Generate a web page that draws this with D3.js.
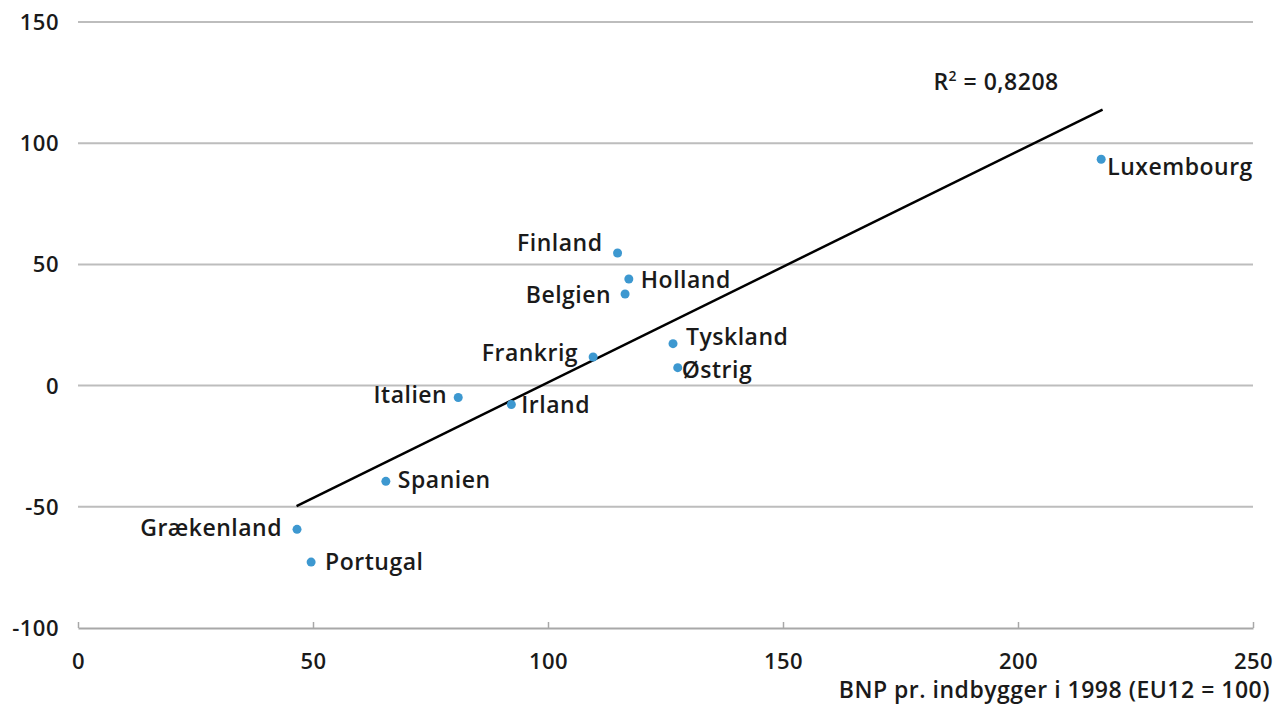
<!DOCTYPE html>
<html>
<head>
<meta charset="utf-8">
<script src="https://cdn.jsdelivr.net/npm/d3@7"></script>
<style>
  body { margin: 0; background: #fff; }
  text { font-family: "Open Sans", "Noto Sans", sans-serif; font-weight: 600; fill: #1a1a1a; letter-spacing: 0.5px; }
</style>
</head>
<body>
<div id="chart"></div>
<script>
var countries = ["Luxembourg", "Finland", "Holland", "Belgien", "Tyskland", "Østrig",
                 "Frankrig", "Italien", "Irland", "Spanien", "Grækenland", "Portugal"];
var gdp =    [217.7, 114.8, 117.2, 116.4, 126.6, 127.6, 109.6, 80.9, 92.2, 65.5, 46.6, 49.6];
var growth = [ 93.4,  54.7,  44.0,  37.8,  17.3,   7.4,  11.8, -4.9, -7.8, -39.5, -59.3, -72.8];
// label placement next to each dot: side ("start" = right, "end" = left) and nudge
var labelSide = ["start", "end", "start", "end", "start", "start",
                 "end", "end", "start", "start", "end", "start"];
var labelDx = [6, -15, 12, -14, 13, 4, -15, -11, 10, 12, -15, 14];
var labelDy = [16, -2, 9, 9, 1, 10, 4, 6, 8, 7, 7, 8];

var trendX = [46.5, 218.0];
var trendY = [-49.7, 113.9];
var r2Text = "0,8208";

var xTicks = [0, 50, 100, 150, 200, 250];
var yTicks = [150, 100, 50, 0, -50, -100];
var xTitle = "BNP pr. indbygger i 1998 (EU12 = 100)";

var margin = {top: 22, right: 33, bottom: 83, left: 78},
    width = 1286 - margin.left - margin.right,
    height = 711 - margin.top - margin.bottom;

var x = d3.scaleLinear().domain([0, 250]).range([0, width]);
var y = d3.scaleLinear().domain([-100, 150]).range([height, 0]);

var svg = d3.select("#chart")
  .append("svg")
    .attr("width", width + margin.left + margin.right)
    .attr("height", height + margin.top + margin.bottom)
  .append("g")
    .attr("transform", "translate(" + margin.left + "," + margin.top + ")");

// horizontal grid lines
svg.append("g")
  .selectAll("line")
  .data(yTicks.filter(function(d) { return d !== -100; }))
  .enter()
  .append("line")
    .attr("x1", 0)
    .attr("x2", width)
    .attr("y1", function(d) { return y(d); })
    .attr("y2", function(d) { return y(d); })
    .attr("stroke", "#bdbdbd")
    .attr("stroke-width", 2);

// y labels
svg.append("g")
  .selectAll("text")
  .data(yTicks)
  .enter()
  .append("text")
    .attr("x", -19)
    .attr("y", function(d) { return y(d); })
    .attr("dy", "0.36em")
    .attr("text-anchor", "end")
    .attr("font-size", 22)
    .text(function(d) { return d; });

// bottom axis
var xAxis = svg.append("g")
    .attr("transform", "translate(0," + height + ")")
    .call(d3.axisBottom(x).tickValues(xTicks).tickSizeInner(-6).tickSizeOuter(0).tickPadding(25));
xAxis.select(".domain").attr("stroke", "#a8a8a8").attr("stroke-width", 2);
xAxis.selectAll(".tick line").attr("stroke", "#a8a8a8").attr("stroke-width", 1.5);
xAxis.selectAll(".tick text")
    .attr("font-size", 22)
    .attr("font-family", null)
    .attr("fill", null);

svg.append("text")
    .attr("x", width + 17)
    .attr("y", height + 70)
    .attr("text-anchor", "end")
    .attr("font-size", 23)
    .text(xTitle);

// trend line
svg.append("line")
    .attr("x1", x(trendX[0]))
    .attr("y1", y(trendY[0]))
    .attr("x2", x(trendX[1]))
    .attr("y2", y(trendY[1]))
    .attr("stroke", "#000")
    .attr("stroke-width", 2.5);

var r2 = svg.append("text")
    .attr("x", x(182))
    .attr("y", y(122))
    .attr("font-size", 23);
r2.append("tspan").text("R");
r2.append("tspan").attr("font-size", 14).attr("dy", -9).text("2");
r2.append("tspan").attr("dy", 9).text(" = " + r2Text);

// points
var pts = countries.map(function(c, i) {
  return {name: c, x: gdp[i], y: growth[i], side: labelSide[i], dx: labelDx[i], dy: labelDy[i]};
});

svg.append("g")
  .selectAll("circle")
  .data(pts)
  .enter()
  .append("circle")
    .attr("cx", function(d) { return x(d.x); })
    .attr("cy", function(d) { return y(d.y); })
    .attr("r", 4.5)
    .attr("fill", "#3d98d0");

svg.append("g")
  .selectAll("text")
  .data(pts)
  .enter()
  .append("text")
    .attr("x", function(d) { return x(d.x) + d.dx; })
    .attr("y", function(d) { return y(d.y) + d.dy; })
    .attr("text-anchor", function(d) { return d.side; })
    .attr("font-size", 23)
    .text(function(d) { return d.name; });
</script>
</body>
</html>
